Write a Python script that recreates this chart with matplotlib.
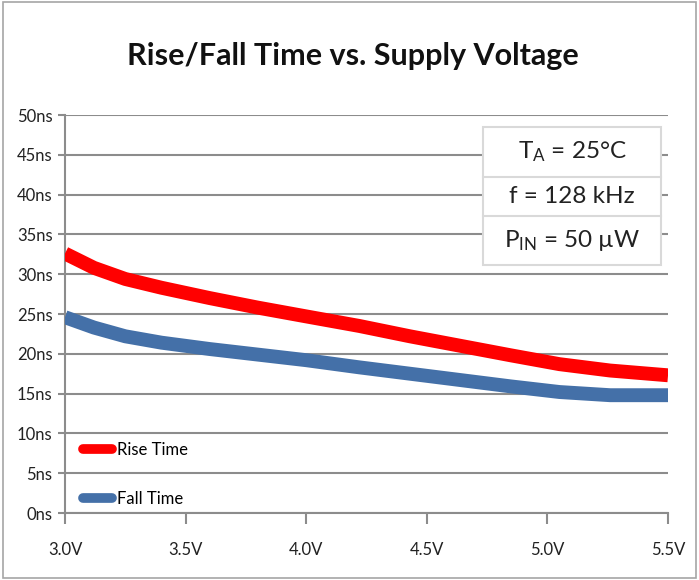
import matplotlib.pyplot as plt
from matplotlib.patches import Rectangle

# values
voltage = [3.0, 3.12, 3.25, 3.4, 3.6, 3.8, 4.0, 4.22, 4.43, 4.64, 4.85, 5.05, 5.26, 5.5]
rise_ns = [32.6, 30.8, 29.4, 28.3, 27.0, 25.8, 24.7, 23.5, 22.2, 21.0, 19.8, 18.7, 17.9, 17.3]
fall_ns = [24.6, 23.3, 22.2, 21.4, 20.6, 19.9, 19.2, 18.3, 17.5, 16.7, 15.9, 15.2, 14.8, 14.8]
x_ticks = [3.0, 3.5, 4.0, 4.5, 5.0, 5.5]
y_ticks = [0, 5, 10, 15, 20, 25, 30, 35, 40, 45, 50]
conditions = [r'$\mathregular{T_A}$ = 25°C', 'f = 128 kHz', r'$\mathregular{P_{IN}}$ = 50 µW']

plt.rcParams['font.family'] = ['Lato', 'DejaVu Sans']
plt.rcParams['mathtext.default'] = 'regular'

fig = plt.figure(figsize=(6.99, 5.80), dpi=100)
ax = fig.add_axes([0.093, 0.1155, 0.8627, 0.6862])

ax.plot(voltage, rise_ns, color='#ff0000', lw=10, label='Rise Time',
        solid_capstyle='butt', solid_joinstyle='round', zorder=3)
ax.plot(voltage, fall_ns, color='#4470a8', lw=10, label='Fall Time',
        solid_capstyle='butt', solid_joinstyle='round', zorder=3)

ax.set_xlim(3.0, 5.5)
ax.set_ylim(0, 50)
ax.set_xticks(x_ticks)
ax.set_xticklabels([f'{v:.1f}V' for v in x_ticks])
ax.set_yticks(y_ticks)
ax.set_yticklabels([f'{v}ns' for v in y_ticks])
ax.grid(axis='y', color='#8c8c8c', lw=1.5)
ax.set_axisbelow(True)
for side in ('top', 'right'):
    ax.spines[side].set_visible(False)
for side in ('left', 'bottom'):
    ax.spines[side].set_color('#8c8c8c')
    ax.spines[side].set_linewidth(1.5)
ax.tick_params(axis='both', colors='#8c8c8c', width=1.5, labelsize=12, labelcolor='#222222')
ax.tick_params(axis='x', length=8, pad=13)
ax.tick_params(axis='y', length=5, pad=4)

fig.suptitle('Rise/Fall Time vs. Supply Voltage', x=0.505, y=0.928, fontsize=22,
             fontweight='bold', color='#111111')

leg = ax.legend(loc='lower left', bbox_to_anchor=(0.0, -0.028), frameon=False, fontsize=12,
                handlelength=1.75, handletextpad=0.3, labelspacing=1.95, borderaxespad=0.1,
                borderpad=0.95)
for line in leg.get_lines():
    line.set_linewidth(7)
    line.set_solid_capstyle('round')

# conditions box in the upper right
box_left, box_right = 483 / 699, 661 / 699
row_edges = [1 - 127 / 580, 1 - 177 / 580, 1 - 216 / 580, 1 - 265 / 580]
fig.patches.append(Rectangle((box_left, row_edges[3]), box_right - box_left, row_edges[0] - row_edges[3],
                             transform=fig.transFigure, facecolor='white', edgecolor='#d9d9d9', lw=1.5,
                             zorder=5))
for edge in row_edges[1:3]:
    fig.add_artist(plt.Line2D([box_left, box_right], [edge, edge], transform=fig.transFigure,
                              color='#d9d9d9', lw=1.5, zorder=6))
for i, text in enumerate(conditions):
    y_mid = (row_edges[i] + row_edges[i + 1]) / 2
    fig.text((box_left + box_right) / 2, y_mid, text, ha='center', va='center', fontsize=17.5,
             color='#222222', zorder=7)

# outer chart frame
fig.patches.append(Rectangle((0.004, 0.003), 0.992, 0.994, transform=fig.transFigure,
                             facecolor='none', edgecolor='#a6a6a6', lw=1.2))

fig.savefig('out.png', dpi=100)
